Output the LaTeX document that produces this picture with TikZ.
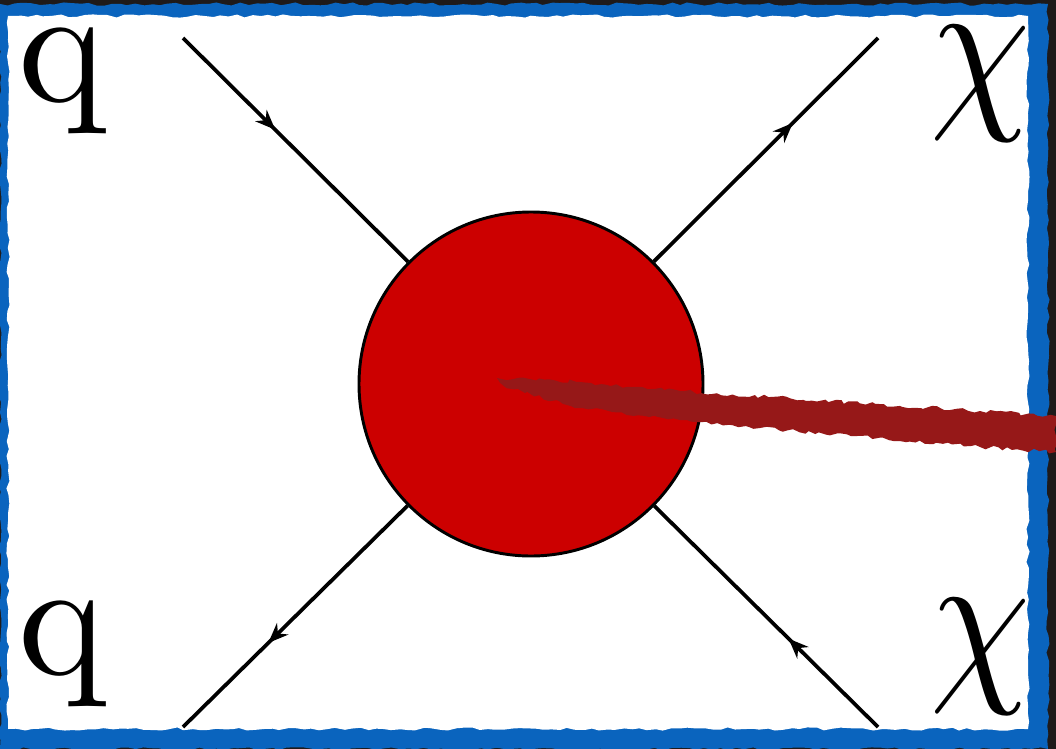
\documentclass[tikz,border=0pt]{standalone}
\usetikzlibrary{arrows.meta,decorations.markings,decorations.pathmorphing}
\definecolor{frameblue}{HTML}{0A64BE}
\definecolor{framedark}{HTML}{1E1A1A}
\definecolor{blobred}{HTML}{CC0000}
\definecolor{brushred}{HTML}{961818}
\tikzset{
  fermion/.style={line width=2.8pt, draw=black, postaction={decorate},
    decoration={markings, mark=at position #1 with {\arrow{Stealth[length=15pt,width=12pt]}}}},
  lbl/.style={anchor=base, inner sep=0pt, font=\normalsize},
  rough/.style={decorate, decoration={random steps, segment length=6pt, amplitude=1.2pt}},
}
\begin{document}
\begin{tikzpicture}[x=0.75pt,y=-0.75pt]
\useasboundingbox (0,0) rectangle (1056,749);
% frame
\fill[framedark] (0,0) rectangle (1056,749);
\fill[frameblue, rough] (0,4) rectangle (1048,749);
\fill[white, rough] (8,16) rectangle (1028,729);
% blob
\node[circle, minimum size=258pt, inner sep=0pt, fill=blobred, draw=black, line width=2.2pt] (blob) at (531,384) {};
% external points
\coordinate (tl) at (183,38);
\coordinate (tr) at (878,38);
\coordinate (bl) at (183,727);
\coordinate (br) at (878,727);
\draw[fermion=0.41] (tl) -- (blob);
\draw[fermion=0.62] (blob) -- (tr);
\draw[fermion=0.62] (blob) -- (bl);
\draw[fermion=0.40] (br) -- (blob);
% labels
\node[lbl] (q1) at (62,101) {\scalebox{12.5}[12.5]{q}};
\node[lbl] (q2) at (62,674) {\scalebox{12.5}[12.5]{q}};
\node[lbl] (chi1) at (981,105) {\scalebox{12}[13.8]{$\chi$}};
\node[lbl] (chi2) at (981,678) {\scalebox{12}[13.8]{$\chi$}};
% brush stroke
\fill[brushred, decorate, decoration={random steps, segment length=4pt, amplitude=1.5pt}]
  (497,378) -- (580,382) -- (680,391) -- (980,411) -- (1056,416)
  -- (1056,452) -- (980,447) -- (760,428) -- (680,420) -- (580,408) -- (505,387) -- cycle;
\end{tikzpicture}
\end{document}
